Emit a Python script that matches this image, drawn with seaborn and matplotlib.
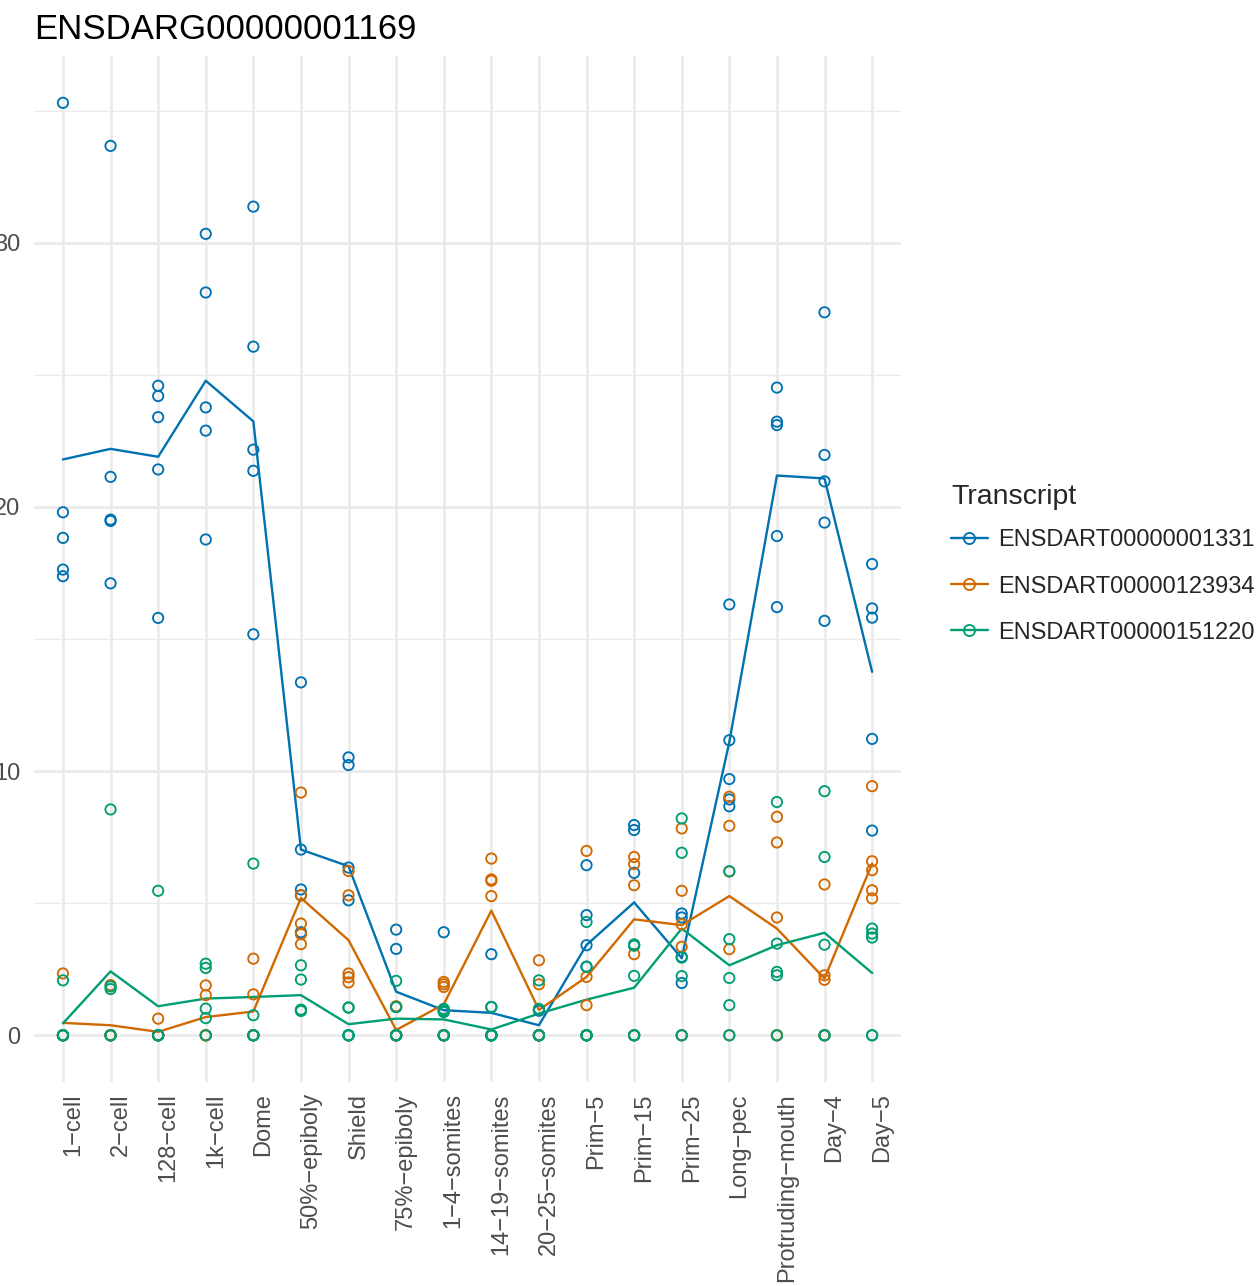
import matplotlib
matplotlib.use("Agg")
import pandas as pd
import matplotlib.pyplot as plt
import matplotlib.transforms as mtrans
from matplotlib.lines import Line2D
import seaborn as sns

# Stages (x axis) and transcripts (hue)
stages = ["1−cell", "2−cell", "128−cell", "1k−cell", "Dome", "50%−epiboly",
          "Shield", "75%−epiboly", "1−4−somites", "14−19−somites",
          "20−25−somites", "Prim−5", "Prim−15", "Prim−25", "Long−pec",
          "Protruding−mouth", "Day−4", "Day−5"]
transcripts = ["ENSDART00000001331", "ENSDART00000123934", "ENSDART00000151220"]
colors = ["#0072B2", "#D26900", "#009E73"]

# replicate values per stage (5 each)
tx1331_reps = [
    [35.3, 19.8, 18.83, 17.63, 17.38],
    [33.67, 21.14, 19.52, 19.47, 17.11],
    [24.59, 24.2, 23.4, 21.42, 15.8],
    [30.34, 28.12, 23.77, 22.89, 18.77],
    [31.37, 26.07, 22.17, 21.37, 15.18],
    [13.36, 7.03, 5.52, 5.3, 3.9],
    [10.52, 10.23, 6.35, 5.11, 0],
    [4.0, 3.27, 1.07, 0, 0],
    [3.9, 0.9, 0, 0, 0],
    [3.07, 1.07, 0, 0, 0],
    [0.97, 0.93, 0, 0, 0],
    [6.44, 4.55, 3.41, 2.6, 0],
    [7.96, 7.77, 6.15, 3.4, 0],
    [4.61, 4.46, 2.97, 1.98, 0],
    [16.31, 11.17, 9.7, 8.93, 8.67],
    [24.52, 23.23, 23.1, 18.9, 16.21],
    [27.37, 21.97, 20.97, 19.41, 15.69],
    [17.84, 16.16, 15.81, 11.22, 7.75],
]
tx123934_reps = [
    [2.34, 0, 0, 0, 0],
    [1.9, 0, 0, 0, 0],
    [0.63, 0, 0, 0, 0],
    [1.89, 1.52, 0, 0, 0],
    [2.9, 1.55, 0, 0, 0],
    [9.19, 5.3, 4.23, 3.83, 3.45],
    [6.22, 5.3, 2.34, 2.2, 2.0],
    [1.1, 0, 0, 0, 0],
    [2.02, 1.93, 1.83, 0, 0],
    [6.69, 5.9, 5.85, 5.27, 0],
    [2.84, 1.93, 0, 0, 0],
    [6.98, 2.21, 1.14, 0, 0],
    [6.75, 6.48, 5.68, 3.07, 0],
    [7.83, 5.47, 4.2, 3.35, 0],
    [9.03, 7.93, 6.2, 3.26, 0],
    [8.27, 7.3, 4.46, 0, 0],
    [5.71, 2.27, 2.1, 0, 0],
    [9.43, 6.59, 6.25, 5.49, 5.18],
]
tx151220_reps = [
    [2.08, 0, 0, 0, 0],
    [8.55, 1.85, 1.75, 0, 0],
    [5.47, 0, 0, 0, 0],
    [2.71, 2.55, 1.01, 0.65, 0],
    [6.5, 0.76, 0, 0, 0],
    [2.65, 2.11, 0.97, 0.95, 0.92],
    [1.05, 1.05, 0, 0, 0],
    [2.06, 1.07, 0, 0, 0],
    [1.0, 0.95, 0.88, 0, 0],
    [1.07, 0, 0, 0, 0],
    [2.08, 1.0, 0.97, 0, 0],
    [4.29, 2.59, 0, 0, 0],
    [3.44, 3.4, 2.25, 0, 0],
    [8.21, 6.91, 2.94, 2.24, 0],
    [6.21, 3.64, 2.17, 1.14, 0],
    [8.83, 3.47, 2.4, 2.27, 0],
    [9.24, 6.75, 3.43, 0, 0],
    [4.04, 3.85, 3.7, 0, 0],
]

# mean lines as drawn in the chart
tx1331_mean = [21.8, 22.2, 21.9, 24.78, 23.24, 7.03, 6.4, 1.65, 0.95, 0.85,
               0.38, 3.42, 5.03, 2.92, 11.1, 21.19, 21.08, 13.76]
tx123934_mean = [0.47, 0.38, 0.13, 0.69, 0.9, 5.2, 3.6, 0.2, 1.17, 4.72,
                 0.96, 2.21, 4.39, 4.17, 5.27, 4.04, 2.15, 6.5]
tx151220_mean = [0.45, 2.42, 1.1, 1.39, 1.45, 1.52, 0.42, 0.63, 0.6, 0.22,
                 0.82, 1.35, 1.8, 4.04, 2.65, 3.41, 3.88, 2.36]

rows = []
for tx, reps in zip(transcripts, [tx1331_reps, tx123934_reps, tx151220_reps]):
    for stage, vals in zip(stages, reps):
        for v in vals:
            rows.append({"Stage": stage, "TPM": v, "Transcript": tx})
points = pd.DataFrame(rows)

mrows = []
for tx, means in zip(transcripts, [tx1331_mean, tx123934_mean, tx151220_mean]):
    for stage, m in zip(stages, means):
        mrows.append({"Stage": stage, "TPM": m, "Transcript": tx})
means = pd.DataFrame(mrows)

pal = dict(zip(transcripts, colors))

sns.set_theme(style="white")
plt.rcParams['font.family'] = ['Liberation Sans', 'DejaVu Sans']

fig = plt.figure(figsize=(12.58, 12.86), dpi=100)
ax = fig.add_axes([0.02735, 0.1586, 0.6886, 0.7978])

sns.lineplot(data=means, x="Stage", y="TPM", hue="Transcript", palette=pal,
             linewidth=1.7, sort=False, legend=False, ax=ax, zorder=3)
sns.scatterplot(data=points, x="Stage", y="TPM", hue="Transcript", palette=pal,
                s=55, linewidth=1.35, legend=False, ax=ax, zorder=4)
# hollow circles
for coll in ax.collections:
    fc = coll.get_facecolors()
    coll.set_edgecolors(fc)
    coll.set_facecolors("none")

ax.set_xlim(-0.6, len(stages) - 0.4)
ax.set_ylim(-1.77, 37.07)
ax.set_yticks([0, 10, 20, 30])
ax.set_yticks([5, 15, 25, 35], minor=True)
ax.grid(which="major", color="#EBEBEB", linewidth=2.0)
ax.grid(which="minor", axis="y", color="#EBEBEB", linewidth=1.0)
ax.set_axisbelow(True)
for sp in ax.spines.values():
    sp.set_visible(False)
ax.set_xlabel("")
ax.set_ylabel("")
ax.tick_params(axis="both", which="both", length=0, labelsize=17, colors="#4D4D4D")
ax.tick_params(axis="x", rotation=90, pad=8)
ax.tick_params(axis="y", pad=10)

offset = mtrans.ScaledTranslation(0.10, 0, fig.dpi_scale_trans)
for lab in ax.get_xticklabels():
    lab.set_transform(lab.get_transform() + offset)

fig.text(34 / 1258, 1 - 39 / 1286, "ENSDARG00000001169", fontsize=25,
         ha="left", va="baseline", color="black")

handles = [Line2D([0], [0], color=c, lw=1.7, marker="o", mfc="none", mec=c,
                  ms=8, mew=1.35) for c in colors]
leg = fig.legend(handles, transcripts, title="Transcript", loc="upper left",
                 bbox_to_anchor=(951 / 1258, 1 - 484 / 1286), frameon=False,
                 fontsize=17, title_fontsize=20.5, handlelength=1.55,
                 handletextpad=0.45, labelspacing=1.02, borderaxespad=0,
                 borderpad=0, alignment="left")
leg._legend_box.sep = 14

fig.savefig("out.png", dpi=100)
